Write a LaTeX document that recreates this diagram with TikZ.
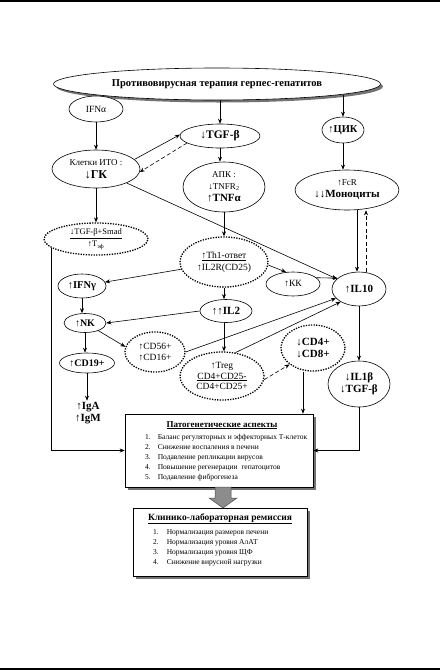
\documentclass[tikz,border=0pt]{standalone}
\usepackage{fontspec}
\setmainfont{Liberation Serif}
\usetikzlibrary{shapes.geometric,arrows.meta,shadows,calc}
\begin{document}
\begin{tikzpicture}[x=1pt,y=-1pt,
  ell/.style={ellipse, draw, line width=0.6pt, inner sep=0pt, align=center, fill=white},
  dotell/.style={ell, line width=1.3pt, dash pattern=on 1.3pt off 1.3pt},
  arr/.style={-{Stealth[length=5pt,width=4pt]}, line width=0.6pt},
  darr/.style={arr, dash pattern=on 4pt off 2.5pt},
  rg/.style={font=\fontsize{9.5}{10.5}\selectfont},
  bd/.style={font=\fontsize{11}{12}\selectfont\bfseries},
  shd/.style={drop shadow={shadow xshift=2.5pt, shadow yshift=-2.5pt, fill=black!55, opacity=1}},
  bx/.style={draw, line width=0.6pt, fill=white, inner sep=0pt, shd}
]
\useasboundingbox (0,0) rectangle (440,670);
\draw[line width=1.2pt] (0,1) -- (440,1);
\draw[line width=1.2pt] (0,669) -- (440,669);

% nodes
\node[ell, shd, minimum width=327, minimum height=32, font=\fontsize{10.5}{12}\selectfont\bfseries] (main) at (217,84) {Противовирусная терапия герпес-гепатитов};
\node[ell, rg, minimum width=54, minimum height=26] (ifna) at (96,109) {IFNα};
\node[ell, minimum width=80, minimum height=24, font=\fontsize{11.5}{12}\selectfont\bfseries] (tgf) at (220,136) {↓TGF-β};
\node[ell, minimum width=42, minimum height=26, font=\fontsize{10.5}{12}\selectfont\bfseries] (cik) at (343,130) {↑ЦИК};
\node[ell, minimum width=88, minimum height=38] (ito) at (96,169) {\fontsize{9}{10}\selectfont Клетки ИТО :\\[1pt]\fontsize{12}{13}\selectfont\bfseries ↓ГК};
\node[ell, minimum width=82, minimum height=50] (apk) at (224,187) {\fontsize{9}{10}\selectfont АПК :\\\fontsize{9}{10}\selectfont ↓TNFR\textsubscript{2}\\\fontsize{11}{12}\selectfont\bfseries ↑TNFα};
\node[ell, minimum width=104, minimum height=40] (mono) at (347,190) {\fontsize{9}{10}\selectfont ↑FcR\\\fontsize{11}{12}\selectfont\bfseries ↓↓Моноциты};
\node[dotell, minimum width=104, minimum height=32, font=\fontsize{8.5}{10}\selectfont] (smad) at (96,239) {\underline{↓TGF-β+Smad}\\[2pt]↑Т\textsubscript{эф}};
\node[dotell, rg, minimum width=88, minimum height=50] (th1) at (224,262) {\underline{↑Th1-ответ}\\[1pt]↑IL2R(CD25)};
\node[ell, font=\fontsize{10.5}{12}\selectfont\bfseries, minimum width=48, minimum height=24] (ifng) at (82,286) {↑IFNγ};
\node[ell, rg, minimum width=54, minimum height=24] (kk) at (293,284) {↑КК};
\node[ell, bd, minimum width=54, minimum height=34] (il10) at (359,289) {↑IL10};
\node[ell, bd, minimum width=52, minimum height=23] (il2) at (226,311) {↑↑IL2};
\node[ell, font=\fontsize{10}{11}\selectfont\bfseries, minimum width=42, minimum height=19] (nk) at (85,323) {↑NK};
\node[dotell, rg, minimum width=60, minimum height=40] (cd56) at (155,352) {↑CD56+\\↑CD16+};
\node[ell, font=\fontsize{10}{11}\selectfont\bfseries, minimum width=55, minimum height=20] (cd19) at (87,363) {↑CD19+};
\node[font=\fontsize{11}{11.5}\selectfont\bfseries, align=center, inner sep=1.5pt] (ig) at (88,413) {↑IgA\\↑IgM};
\node[dotell, rg, minimum width=84, minimum height=48] (treg) at (222,376) {↑Treg\\\underline{CD4+CD25-}\\CD4+CD25+};
\node[dotell, bd, minimum width=64, minimum height=46] (cd4) at (313,348) {↓CD4+\\↓CD8+};
\node[ell, bd, minimum width=62, minimum height=46] (il1b) at (359,384) {↓IL1β\\↓TGF-β};

% boxes
\node[bx, minimum width=188, minimum height=73] (box) at (219,450.5) {};
\node[font=\fontsize{9}{10}\selectfont\bfseries, anchor=base] (boxt) at (222,427) {\underline{Патогенетические аспекты}};
\node[anchor=base west, inner sep=0pt, font=\fontsize{7.5}{10}\selectfont] (boxl) at (145,439.5) {\begin{tabular}[t]{@{}l@{\hspace{7pt}}l@{}}
1. & Баланс регуляторных и эффекторных Т-клеток\\
2. & Снижение воспаления в печени\\
3. & Подавление репликации вирусов\\
4. & Повышение регенерации \ гепатоцитов\\
5. & Подавление фиброгенеза
\end{tabular}};

\node[bx, minimum width=174, minimum height=68] (box2) at (220,542) {};
\node[font=\fontsize{9.5}{10}\selectfont\bfseries, anchor=base] (box2t) at (220,520) {\underline{Клинико-лабораторная ремиссия}};
\node[anchor=base west, inner sep=0pt, font=\fontsize{7.5}{10}\selectfont] (box2l) at (153,534.5) {\begin{tabular}[t]{@{}l@{\hspace{8pt}}l@{}}
1. & Нормализация размеров печени\\
2. & Нормализация уровня АлАТ\\
3. & Нормализация уровня ЩФ\\
4. & Снижение вирусной нагрузки
\end{tabular}};

% block arrow
\filldraw[fill=black!45, draw=black!70, line width=0.5pt] (215,487) -- (231,487) -- (231,498) -- (237,498) -- (223,508) -- (209,498) -- (215,498) -- cycle;

% connectors
\draw[arr] (tgf.north |- main.south) -- (tgf.north);
\draw[arr] (cik.north |- main.-5) -- (cik.north);
\draw[arr] (ifna) -- (ito);
\draw[arr] (ito.14) -- (tgf.178);
\draw[darr] (tgf.192) -- (ito.-4);
\draw[arr] (tgf.south) -- (tgf.south |- apk.north);
\draw[arr] (cik.south) -- (cik.south |- mono.north);
\draw[arr] (ito) -- (smad);
\draw[arr] (ito) -- (il10);
\draw[arr] (apk.south) -- (apk.south |- th1.north);
\draw[arr] ([xshift=-2pt]il10.north |- mono.south) -- ([xshift=-2pt]il10.north);
\draw[darr] ([xshift=7pt]il10.north) -- ([xshift=7pt]il10.north |- mono.south);
\draw[arr] (th1) -- (ifng);
\draw[arr] (th1.-4) -- (kk.120);
\draw[arr] (kk.15) -- (il10.153);
\draw[arr] (th1.south) -- (th1.south |- il2.north);
\draw[arr] (il2.west) -- (nk.east);
\draw[arr] (ifng.south) -- (ifng.south |- nk.north);
\draw[arr] (nk.-30) -- (cd56.170);
\draw[arr] (nk.south) -- (nk.south |- cd19.north);
\draw[arr] (cd19.south) -- (cd19.south |- ig.north);
\draw[arr] (cd56.east) -- (il10.202);
\draw[arr] (il2.south -| th1.south) -- (treg.north -| th1.south);
\draw[arr] (treg.60) -- (il10.215);
\draw[darr] (treg.-5) -- (cd4.215);
\draw[arr] (il10.south) -- (il1b.north);
\draw[arr] ([xshift=-10pt]cd4.south) -- ([xshift=-10pt]cd4.south |- box.north);
\draw[arr] (smad.191) |- (box.west);
\draw[arr] (il1b.south) |- (box.east);
\end{tikzpicture}
\end{document}
